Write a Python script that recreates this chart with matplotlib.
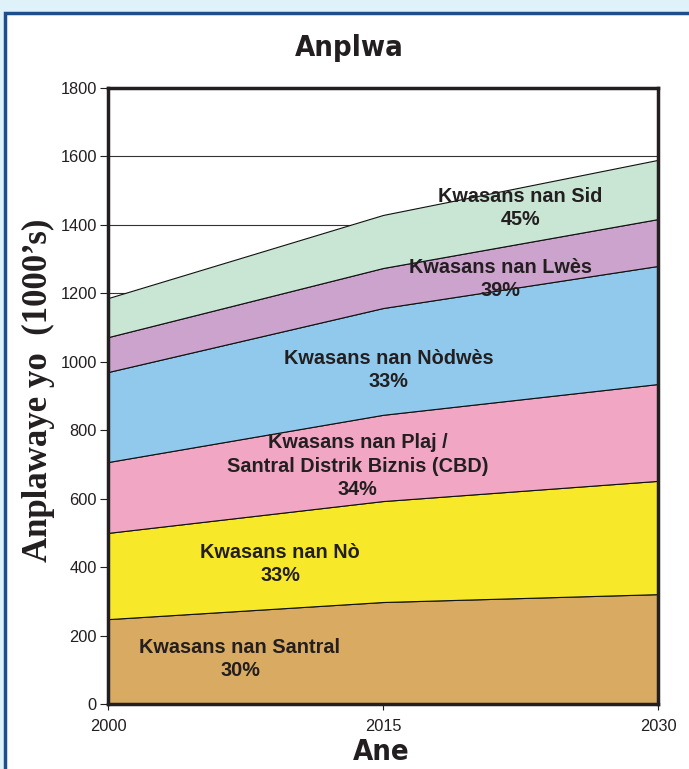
import matplotlib
matplotlib.use('Agg')
import matplotlib.pyplot as plt
from matplotlib.patches import Rectangle
import numpy as np

# Done (ane) ak popilasyon pa kwasans (milye)
ane = [2000, 2015, 2030]
santral = [248, 298, 321]
no = [252, 295, 331]
plaj = [207, 252, 283]
nodwes = [263, 312, 345]
lwes = [102, 117, 137]
sid = [114, 155, 173]

kouch = [santral, no, plaj, nodwes, lwes, sid]
koule = ['#d8aa62', '#f7e92a', '#f1a7c4', '#90c9ec', '#cba3cc', '#c9e5d4']

yticks = [0, 200, 400, 600, 800, 1000, 1200, 1400, 1600, 1800]

# etikèt zòn yo: (tèks, x, y)
etikèt = [
    ('Kwasans nan Santral\n30%', 2007.2, 131),
    ('Kwasans nan Nò\n33%', 2009.4, 408),
    ('Kwasans nan Plaj /\nSantral Distrik Biznis (CBD)\n34%', 2013.6, 695),
    ('Kwasans nan Nòdwès\n33%', 2015.3, 976),
    ('Kwasans nan Lwès\n39%', 2021.4, 1242),
    ('Kwasans nan Sid\n45%', 2022.5, 1449),
]

fig = plt.figure(figsize=(6.89, 7.69), dpi=100)
fig.patch.set_facecolor('#dff1f9')

# panel blan ak bòdi ble
panel = Rectangle((5 / 689, -0.01), 1.0, 1 - 13 / 769 + 0.01,
                  transform=fig.transFigure, facecolor='white',
                  edgecolor='#1f4e8c', linewidth=2.5, clip_on=False,
                  zorder=-10)
fig.patches.append(panel)

ax = fig.add_axes([108 / 689, 1 - 704 / 769, 550 / 689, 616 / 769])
ax.set_zorder(2)
ax.set_facecolor('white')

for y in yticks[1:-1]:
    ax.axhline(y, color='#333333', linewidth=0.8, zorder=0)

ax.stackplot(ane, *kouch, colors=koule, edgecolor='#111111',
             linewidth=0.8, zorder=2)

ax.set_xlim(2000, 2030)
ax.set_ylim(0, 1800)
ax.set_xticks(ane)
ax.set_yticks(yticks)

for s in ax.spines.values():
    s.set_linewidth(2.5)
    s.set_color('#231f20')
    s.set_zorder(5)

ax.tick_params(axis='both', direction='out', length=6, width=0.8,
               labelsize=11.8, colors='#231f20')
ax.tick_params(axis='y', pad=2)
ax.tick_params(axis='x', length=4, pad=7)
for lbl in ax.get_xticklabels() + ax.get_yticklabels():
    lbl.set_family('Liberation Sans')

for txt, x, y in etikèt:
    ax.text(x, y, txt, ha='center', va='center', fontsize=14.3,
            fontweight='bold', family='Liberation Sans', color='#231f20',
            linespacing=1.28, zorder=6)

fig.text(0.507, 1 - 48 / 769, 'Anplwa', ha='center', va='center',
         fontsize=21, fontweight='bold', family='DejaVu Sans',
         fontstretch='condensed', color='#231f20')
fig.text(0.553, 1 - 752 / 769, 'Ane', ha='center', va='center',
         fontsize=21, fontweight='bold', family='DejaVu Sans',
         fontstretch='condensed', color='#231f20')
fig.text(38 / 689, 1 - 390 / 769, 'Anplawaye yo  (1000\u2019s)',
         ha='center', va='center', rotation=90, fontsize=25,
         fontweight='bold', family='Liberation Serif', color='#231f20')

fig.savefig('out.png', dpi=100)
